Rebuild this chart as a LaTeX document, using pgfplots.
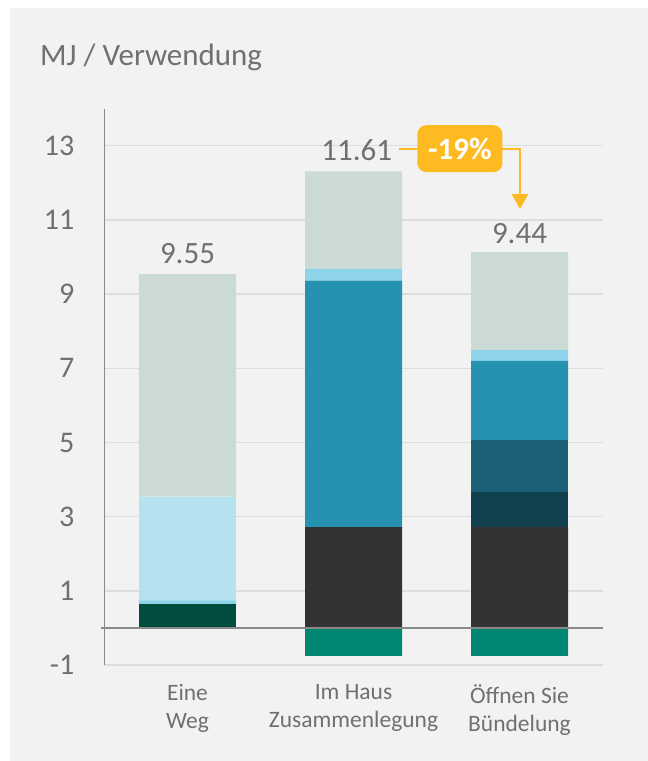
\documentclass[border=0pt]{standalone}
\usepackage{fontspec}
\setmainfont{Carlito}
\usepackage{pgfplots}
\pgfplotsset{compat=1.18}
\usetikzlibrary{arrows.meta}
\definecolor{bgc}{HTML}{F2F2F2}
\definecolor{gridc}{HTML}{DDDDDD}
\definecolor{spine}{HTML}{8A8A8A}
\definecolor{txt}{HTML}{707070}
\definecolor{cA}{HTML}{004C3F}
\definecolor{cB}{HTML}{333333}
\definecolor{cC}{HTML}{11414F}
\definecolor{cD}{HTML}{1A6076}
\definecolor{cE}{HTML}{2593B0}
\definecolor{cF}{HTML}{8DD3EA}
\definecolor{cG}{HTML}{B4E2EE}
\definecolor{cH}{HTML}{CBDAD5}
\definecolor{cN}{HTML}{008672}
\definecolor{orng}{HTML}{FDBA21}
\begin{document}
\begin{tikzpicture}
\useasboundingbox (0bp,0bp) rectangle (648bp,761bp);
\fill[white] (0bp,0bp) rectangle (648bp,761bp);
\fill[bgc] (10bp,0bp) rectangle (648bp,753bp);
\node[anchor=base west, inner sep=0pt, text=txt, font=\fontsize{31bp}{37bp}\selectfont] at (40bp,695bp) {MJ / Verwendung};
\pgfplotsset{common/.style={scale only axis, width=498bp, height=556.5bp,
  at={(104.5bp,95.9bp)}, anchor=south west, xmin=-0.5, xmax=2.5, ymin=-1, ymax=14,
  bar width=97bp, clip=false}}
\begin{axis}[common, ybar stacked,
  axis lines*=left,
  x axis line style={draw=none},
  y axis line style={draw=spine, line width=1.5bp},
  major tick length=0pt,
  ytick={-1,1,3,5,7,9,11,13},
  yticklabels={-1,1,3,5,7,9,11,13},
  xtick={0,1,2},
  xticklabels={{Eine\\Weg},{Im Haus\\Zusammenlegung},{Öffnen Sie\\Bündelung}},
  ymajorgrids, grid style={draw=gridc, line width=1.3bp},
  yticklabel style={anchor=east, inner sep=0pt, xshift=-30bp, text=txt, font=\fontsize{30bp}{36bp}\selectfont},
  xticklabel style={anchor=north, inner sep=0pt, yshift=-19bp, align=center, text=txt, font=\fontsize{23.5bp}{28.5bp}\selectfont},
]
\addplot[fill=cA, draw=none] coordinates {(0,0.65) (1,0) (2,0)};
\addplot[fill=cB, draw=none] coordinates {(0,0) (1,2.72) (2,2.72)};
\addplot[fill=cC, draw=none] coordinates {(0,0) (1,0) (2,0.95)};
\addplot[fill=cD, draw=none] coordinates {(0,0) (1,0) (2,1.39)};
\addplot[fill=cE, draw=none] coordinates {(0,0) (1,6.64) (2,2.14)};
\addplot[fill=cF, draw=none] coordinates {(0,0.09) (1,0.31) (2,0.29)};
\addplot[fill=cG, draw=none] coordinates {(0,2.80) (1,0) (2,0)};
\addplot[fill=cH, draw=none] coordinates {(0,6.00) (1,2.64) (2,2.64)};
\end{axis}
\begin{axis}[common, ybar, bar shift=0pt, hide axis]
\addplot[fill=cN, draw=none] coordinates {(1,-0.75) (2,-0.75)};
\draw[spine, line width=1.5bp] (axis cs:-0.52,0) -- (axis cs:2.5,0);
\node[text=txt, font=\fontsize{31bp}{37bp}\selectfont, inner sep=0pt] at (axis cs:0,10.1) {9.55};
\node[text=txt, font=\fontsize{31bp}{37bp}\selectfont, inner sep=0pt] at (axis cs:1.02,12.89) {11.61};
\node[text=txt, font=\fontsize{31bp}{37bp}\selectfont, inner sep=0pt] at (axis cs:2,10.64) {9.44};
\draw[orng, line width=2bp, -{Triangle[width=16bp,length=15bp]}] (axis cs:1.274,12.91) -- (axis cs:2.003,12.91) -- (axis cs:2.003,11.29);
\node[fill=orng, rounded corners=9bp, minimum width=85bp, minimum height=47bp, inner sep=0pt, text=white, font=\fontsize{31bp}{37bp}\selectfont\bfseries] at (axis cs:1.641,12.92) {-19\%};
\end{axis}
\end{tikzpicture}
\end{document}
